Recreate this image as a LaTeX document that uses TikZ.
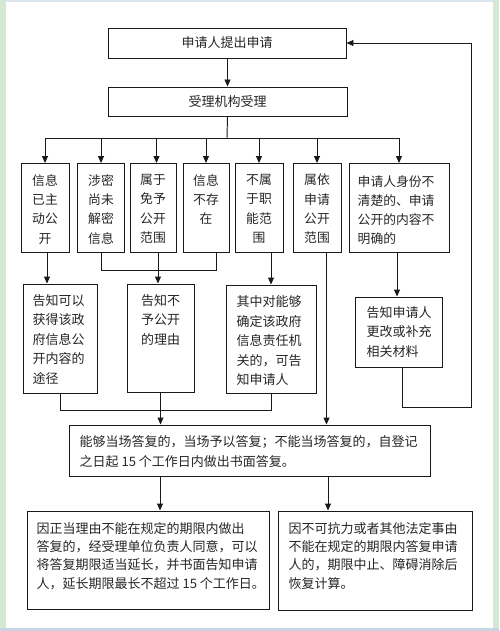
\documentclass[tikz,border=0pt]{standalone}
\usepackage{fontspec}
\setmainfont{Noto Sans CJK SC}
\usetikzlibrary{arrows.meta}
\definecolor{bggreen}{RGB}{213,232,212}
\definecolor{bgblue}{RGB}{220,230,240}
\definecolor{bgbottom}{RGB}{200,212,226}
\definecolor{linec}{RGB}{25,25,25}
\tikzset{
  frame/.style={draw=linec, line width=0.95pt, inner sep=0pt},
  txtn/.style={inner sep=0pt, font=\fontsize{12.8}{19.3}\selectfont, align=center, text=black!85},
  txtm/.style={inner sep=0pt, font=\fontsize{13}{19.5}\selectfont, align=left, text=black!85},
  txtw/.style={inner sep=0pt, font=\fontsize{13}{18.3}\selectfont, align=left, text=black!85},
  wire/.style={draw=linec, line width=0.95pt},
  arr/.style={wire, -{Triangle[length=7pt,width=6pt]}},
}
\begin{document}
\begin{tikzpicture}[x=1pt,y=-1pt]
\useasboundingbox (0,0) rectangle (499,631);
\fill[bggreen] (0,0) rectangle (499,631);
\fill[white] (6,2) rectangle (493,628);
\fill[bgblue] (6,0) rectangle (493,2.5);
\fill[bgbottom] (0,628) rectangle (499,631);

% top boxes
\node[frame, font=\fontsize{13}{16}\selectfont, text=black!85, minimum width=238, minimum height=30] (p1) at (227,43) {申请人提出申请};
\node[frame, font=\fontsize{13}{16}\selectfont, text=black!85, minimum width=239, minimum height=29] (p2) at (227.5,101.5) {受理机构受理};
\draw[arr] (p2.north |- p1.south) -- (p2.north);

% first row
\node[frame, minimum width=48, minimum height=89] (b1) at (45,208) {};
\node[frame, minimum width=47, minimum height=89] (b2) at (101,208) {};
\node[frame, minimum width=46, minimum height=89] (b3) at (153,208) {};
\node[frame, minimum width=46, minimum height=89] (b4) at (206,208) {};
\node[frame, minimum width=48, minimum height=89] (b5) at (259,208) {};
\node[frame, minimum width=48, minimum height=89] (b6) at (317,208) {};
\node[frame, minimum width=100, minimum height=89] (b7) at (399,208) {};

\node[txtn, anchor=north] (b1t) at ([yshift=-11]b1.north) {信息\\已主\\动公\\开};
\node[txtn, anchor=north] (b2t) at ([yshift=-11]b2.north) {涉密\\尚未\\解密\\信息};
\node[txtn, anchor=north] (b3t) at ([yshift=-11]b3.north) {属于\\免予\\公开\\范围};
\node[txtn, anchor=north] (b4t) at ([yshift=-11]b4.north) {信息\\不存\\在};
\node[txtn, anchor=north] (b5t) at ([yshift=-11]b5.north) {不属\\于职\\能范\\围};
\node[txtn, anchor=north] (b6t) at ([yshift=-11]b6.north) {属依\\申请\\公开\\范围};
\node[txtn, align=left, anchor=north west] (b7t) at ([xshift=9,yshift=-12]b7.north west) {申请人身份不\\清楚的、申请\\公开的内容不\\明确的};

% bus
\coordinate (bus) at (227,138);
\draw[wire] (p2.south) -- (bus);
\draw[wire] (b1.north |- bus) -- (b7.north |- bus);
\draw[arr] (b1.north |- bus) -- (b1.north);
\draw[arr] (b2.north |- bus) -- (b2.north);
\draw[arr] ([xshift=3.5]b3.north |- bus) -- ([xshift=3.5]b3.north);
\draw[arr] (b4.north |- bus) -- (b4.north);
\draw[arr] (b5.north |- bus) -- (b5.north);
\draw[arr] (b6.north |- bus) -- (b6.north);
\draw[arr] (b7.north |- bus) -- (b7.north);

% second row
\node[frame, minimum width=74, minimum height=109] (c1) at (60,338.5) {};
\node[frame, minimum width=67, minimum height=108] (c2) at (160.5,338) {};
\node[frame, minimum width=90, minimum height=108] (c3) at (271,339) {};
\node[frame, minimum width=87, minimum height=70] (c4) at (398.5,332) {};

\node[txtm, anchor=north west] (c1t) at ([xshift=10,yshift=-10.4]c1.north west) {告知可以\\获得该政\\府信息公\\开内容的\\途径};
\node[txtm, align=left, anchor=north] (c2t) at ([yshift=-10.4]c2.north) {告知不\\予公开\\的理由};
\node[txtm, anchor=north west] (c3t) at ([xshift=11,yshift=-11]c3.north west) {其中对能够\\确定该政府\\信息责任机\\关的，可告\\知申请人};
\node[txtm, anchor=north west] (c4t) at ([xshift=12,yshift=-9.4]c4.north west) {告知申请人\\更改或补充\\相关材料};

\draw[arr] ([xshift=2]b1.south) -- ([xshift=2]b1.south |- c1.north);
\draw[wire] (b2.south) -- ++(0,17.5) -| ([xshift=10.5]b4.south);
\draw[arr] ([xshift=5]b3.south) -- ([xshift=5]b3.south |- c2.north);
\draw[arr] (c3.north |- b5.south) -- (c3.north);
\draw[arr] ([xshift=-2]b7.south) -- ([xshift=-2]b7.south |- c4.north);

% reply box
\node[frame, minimum width=361, minimum height=51] (n) at (249.5,450.5) {};
\node[txtm, font=\fontsize{13}{20}\selectfont, anchor=north west] (nt) at ([xshift=11,yshift=-11]n.north west) {能够当场答复的，当场予以答复；不能当场答复的，自登记\\之日起 15 个工作日内做出书面答复。};

\draw[arr] ([xshift=9.5]b6.south) -- ([xshift=9.5]b6.south |- n.north);
\draw[wire] (c1.south) -- ++(0,17) -| (c3.south);
\draw[arr] (c2.south) -- (c2.south |- n.north);

% loop back
\coordinate (rt) at (471,407);
\draw[arr] ([xshift=4]c4.south) |- (rt) |- (p1.east);

% bottom boxes
\node[frame, minimum width=242, minimum height=98] (bl) at (148,560) {};
\node[frame, minimum width=194, minimum height=99] (br) at (375,560.5) {};
\node[txtw, anchor=north west] (blt) at ([xshift=10,yshift=-11.5]bl.north west) {因正当理由不能在规定的期限内做出\\答复的，经受理单位负责人同意，可以\\将答复期限适当延长，并书面告知申请\\人，延长期限最长不超过 15 个工作日。};
\node[txtw, anchor=north west] (brt) at ([xshift=11,yshift=-11.5]br.north west) {因不可抗力或者其他法定事由\\不能在规定的期限内答复申请\\人的，期限中止、障碍消除后\\恢复计算。};

\draw[arr] ([xshift=-89.5]n.south) -- ([xshift=-89.5]n.south |- bl.north);
\draw[arr] ([xshift=78.5]n.south) -- ([xshift=78.5]n.south |- br.north);
\end{tikzpicture}
\end{document}
